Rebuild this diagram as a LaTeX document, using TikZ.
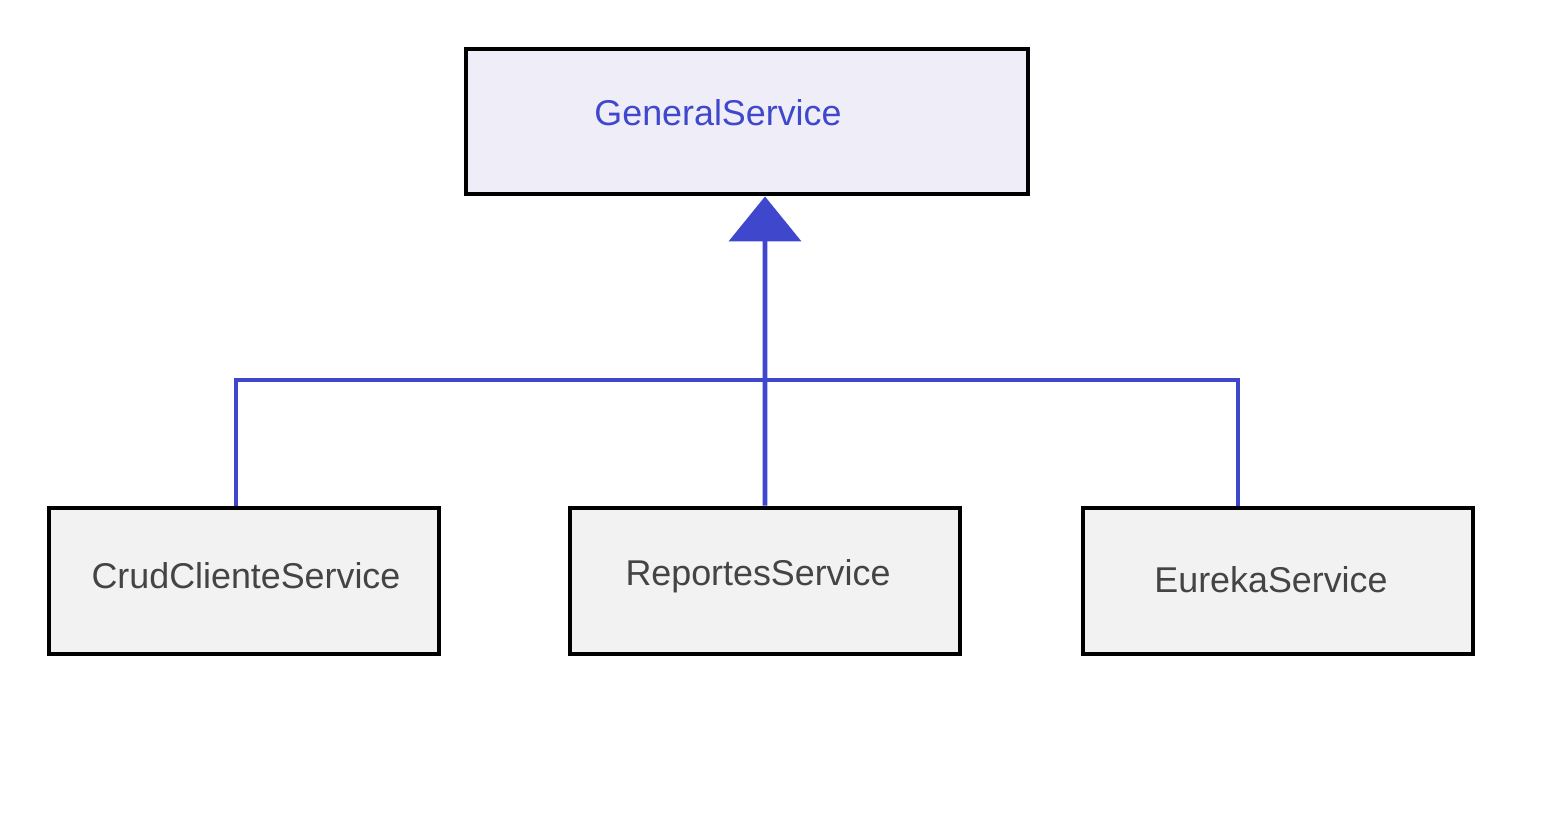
\documentclass[tikz,border=0pt]{standalone}
\usepackage{fontspec}
\setmainfont{Liberation Sans}
\usetikzlibrary{arrows.meta}
\definecolor{umlblue}{RGB}{63,72,204}
\definecolor{umltext}{RGB}{68,68,68}
\definecolor{parentfill}{RGB}{239,238,248}
\definecolor{childfill}{RGB}{242,242,242}
\tikzset{classbox/.style={draw=black, line width=2.8pt, rectangle, minimum width=7.8cm, minimum height=2.92cm, fill=childfill},
         classname/.style={text=umltext, font=\fontsize{20.4}{24}\selectfont, inner sep=0pt},
         link/.style={draw=umlblue, line width=2.6pt}}

\begin{document}
\begin{tikzpicture}
        \useasboundingbox (0,0) rectangle (30.98,16.24);
        \node[classbox, fill=parentfill, minimum width=11.24cm, minimum height=2.9cm] (gs) at (14.94, 13.81) {};
        \node[classname, text=umlblue] (gsname) at (14.36, 13.98) {GeneralService};
        %
        \node[classbox] (cc) at (4.88, 4.62) {};
        \node[classbox] (rs) at (15.30, 4.62) {};
        \node[classbox] (ek) at (25.56, 4.62) {};
        \node[classname] (ccname) at (4.92, 4.72) {CrudClienteService};
        \node[classname] (rsname) at (15.16, 4.72) {ReportesService};
        \node[classname] (ekname) at (25.42, 4.64) {EurekaService};
        %
        \coordinate (bus) at (15.30, 8.64);
        \draw[link] ([xshift=-0.16cm]cc.north) |- ([xshift=-0.8cm]ek.north |- bus) -- ([xshift=-0.8cm]ek.north);
        \draw[link, -{Triangle[width=1.44cm, length=0.9cm]}] (rs.north) -- ([xshift=0.36cm]gs.south);
\end{tikzpicture}
\end{document}
